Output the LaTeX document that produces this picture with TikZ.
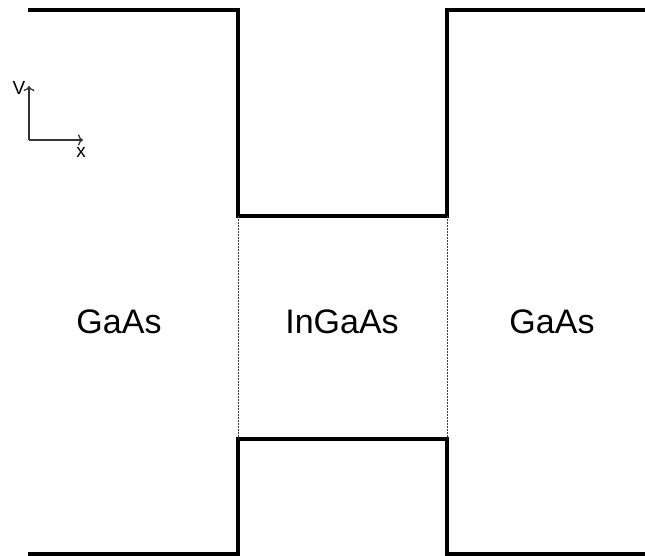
\documentclass[tikz,border=0pt]{standalone}
\usepackage{fontspec}
\setmainfont{Liberation Sans}
\usepackage{tikz}
\usetikzlibrary{arrows,arrows.meta,positioning,calc}

\begin{document}
\begin{tikzpicture}[x=1pt, y=-1pt]
          	 \useasboundingbox (0,0) rectangle (645,556);

          	 % conduction band
          	 \draw[line width=3.2pt] (28,10) -- (238,10) -- (238,216) -- (447,216) -- (447,10) -- (646,10);
          	 % valence band
          	 \draw[line width=3.2pt] (28,554) -- (238,554) -- (238,439) -- (447,439) -- (447,554) -- (646,554);

          	 \draw[gray!50!black, line width=0.9pt, dash pattern=on 2pt off 1pt] (238,216) -- (238,439);
          	 \draw[gray!50!black, line width=0.9pt, dash pattern=on 2pt off 1pt] (447,216) -- (447,439);

          	 % axes
          	 \draw[gray!40!black, line width=1.3pt, -{To[length=5pt,width=11pt]}] (29,140) -- (29,86);
          	 \draw[gray!40!black, line width=1.3pt, -{To[length=5pt,width=11pt]}] (29,140) -- (83,140);
          	 \node (v) at (19,88) {\fontsize{19}{20}\selectfont V};
          	 \node (x) at (81,152) {\fontsize{19}{20}\selectfont x};

          	 \node (left) at (119,322) {\fontsize{34}{40}\selectfont GaAs};
          	 \node (well) at (342,322) {\fontsize{34}{40}\selectfont InGaAs};
          	 \node (right) at (552,322) {\fontsize{34}{40}\selectfont GaAs};
        \end{tikzpicture}
\end{document}
